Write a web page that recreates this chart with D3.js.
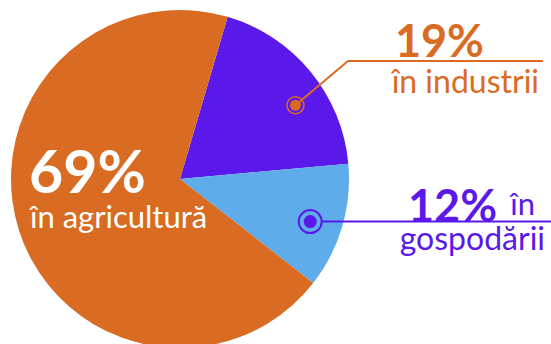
<!DOCTYPE html>
<html><head><meta charset="utf-8">
<script src="https://cdn.jsdelivr.net/npm/d3@7"></script>
<style>html,body{margin:0;padding:0;background:#fff;}svg{display:block;font-family:Lato,"Open Sans",sans-serif;}</style>
</head><body>
<svg id="c" width="551" height="344"></svg>
<script>
const categories = ["în industrii", "în gospodării", "în agricultură"];
const values = [19, 12, 69];
const percentLabels = ["19%", "12%", "69%"];
const colors = ["#5B18EA", "#5EADEA", "#D96B22"];

const svg = d3.select("#c");
const cx = 180, cy = 179, R = 169;
const g = svg.append("g").attr("transform", `translate(${cx},${cy})`);

const pie = d3.pie().sort(null).value(d => d).startAngle(0.286).endAngle(0.286 + 2 * Math.PI);
const arcs = pie(values);
const arc = d3.arc().innerRadius(0).outerRadius(R);

g.selectAll("path").data(arcs).enter().append("path")
  .attr("d", arc).attr("fill", (d, i) => colors[i]);

const orange = "#D96B22", purple = "#5B18EA";
function pt(r, a) { return [Math.sin(a) * r, -Math.cos(a) * r]; }

// industry annotation
const a1 = arcs[0].startAngle + (arcs[0].endAngle - arcs[0].startAngle) * 0.6;
const p1 = pt(137, a1);
const d1x = cx + p1[0], d1y = cy + p1[1];
svg.append("polyline")
  .attr("points", `${d1x},${d1y} 348,61 543,61`)
  .attr("fill", "none").attr("stroke", orange).attr("stroke-width", 2);
svg.append("circle").attr("cx", d1x).attr("cy", d1y).attr("r", 8.5)
  .attr("fill", "none").attr("stroke", orange).attr("stroke-width", 1.5);
svg.append("circle").attr("cx", d1x).attr("cy", d1y).attr("r", 5.5).attr("fill", orange);
svg.append("text").attr("x", 484).attr("y", 57).attr("text-anchor", "end")
  .attr("font-size", 45).attr("font-weight", 700).attr("fill", orange).text(percentLabels[0]);
svg.append("text").attr("x", 539).attr("y", 93).attr("text-anchor", "end")
  .attr("font-size", 32).attr("fill", orange).text(categories[0]);

// households annotation
const a2 = arcs[1].startAngle + (arcs[1].endAngle - arcs[1].startAngle) * 0.54;
const p2 = pt(137, a2);
const d2x = cx + p2[0], d2y = cy + p2[1];
svg.append("line").attr("x1", d2x).attr("y1", d2y).attr("x2", 551).attr("y2", d2y)
  .attr("stroke", purple).attr("stroke-width", 2);
svg.append("circle").attr("cx", d2x).attr("cy", d2y).attr("r", 11.5)
  .attr("fill", "#5EADEA").attr("stroke", purple).attr("stroke-width", 2);
svg.append("circle").attr("cx", d2x).attr("cy", d2y).attr("r", 6.5).attr("fill", purple);
svg.append("text").attr("x", 408).attr("y", 221.5)
  .attr("font-size", 45).attr("font-weight", 700).attr("fill", purple).text(percentLabels[1]);
const hw = categories[1].split(" ");
svg.append("text").attr("x", 535).attr("y", 215).attr("text-anchor", "end")
  .attr("font-size", 31).attr("fill", purple).text(hw[0]);
svg.append("text").attr("x", 545).attr("y", 250).attr("text-anchor", "end")
  .attr("font-size", 32).attr("fill", purple).text(hw.slice(1).join(" "));

// agriculture label
svg.append("text").attr("x", 29).attr("y", 193)
  .attr("font-size", 59).attr("font-weight", 700).attr("fill", "#fff").text(percentLabels[2]);
svg.append("text").attr("x", 30).attr("y", 228)
  .attr("font-size", 31).attr("fill", "#fff").text(categories[2]);
</script>
</body></html>
